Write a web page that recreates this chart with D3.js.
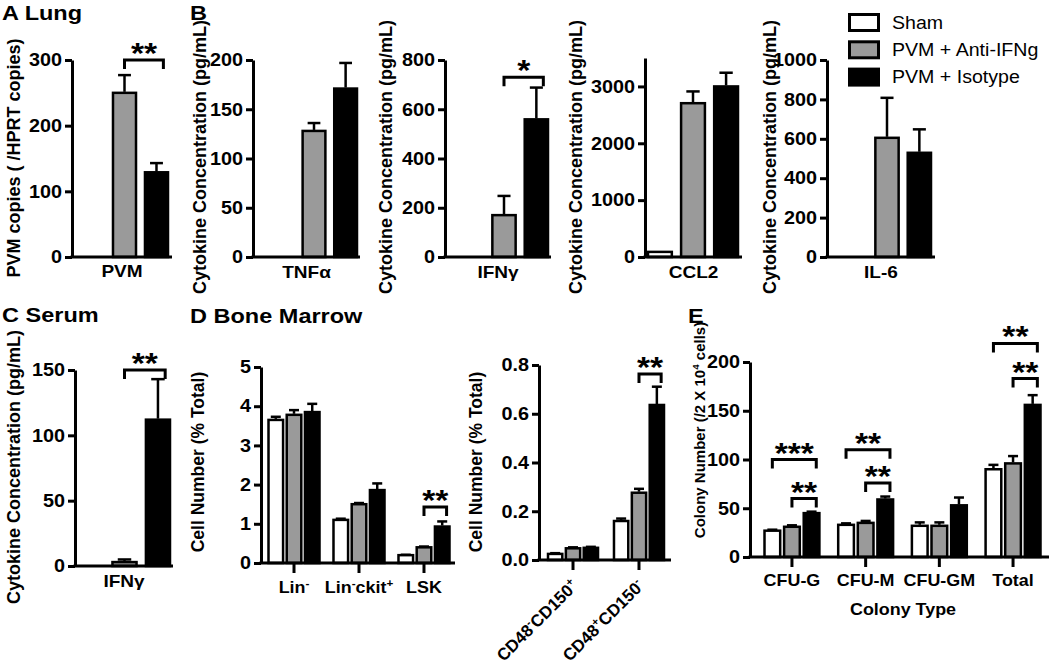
<!DOCTYPE html>
<html>
<head>
<meta charset="utf-8">
<script src="https://cdn.jsdelivr.net/npm/d3@7"></script>
<style>
  body { margin: 0; background: #fff; }
  svg { font-family: "Liberation Sans", Arial, sans-serif; }
</style>
</head>
<body>
<script>
// groups shown in every panel
const series = ["Sham", "PVM + Anti-IFNg", "PVM + Isotype"];
const fills = ["#ffffff", "#9a9a9a", "#000000"];

// A - lung viral load
const lungCats = ["PVM"];
const lungMean = [[null, 250, 129]];
const lungErr = [[null, 27, 14]];
const lungSig = [[0, 1, 2, 300, "**"]];

// B - lung cytokines
const cytoCats = ["TNFα", "IFNγ", "CCL2", "IL-6"];
const cytoMean = [[null, 128, 171], [null, 170, 559], [90, 2705, 3000], [null, 605, 529]];
const cytoErr = [[null, 8, 26], [null, 78, 129], [null, 207, 241], [null, 203, 119]];
const cytoTicks = [[0, 50, 100, 150, 200], [0, 200, 400, 600, 800], [0, 1000, 2000, 3000], [0, 200, 400, 600, 800, 1000]];
const cytoSig = [[], [[0, 1, 2, 730, "*"]], [], []];

// C - serum
const serumCats = ["IFNγ"];
const serumMean = [[null, 3, 112]];
const serumErr = [[null, 2, 31]];
const serumSig = [[0, 1, 2, 150, "**"]];

// D - bone marrow ("^x" = superscript)
const bmCats = ["Lin^-", "Lin^-ckit^+", "LSK"];
const bmMean = [[3.65, 3.78, 3.85], [1.10, 1.50, 1.86], [0.20, 0.40, 0.93]];
const bmErr = [[0.08, 0.12, 0.21], [0.03, 0.03, 0.17], [0.01, 0.02, 0.13]];
const bmSig = [[2, 1, 2, 1.43, "**"]];

const hscCats = ["CD48^-CD150^+", "CD48^+CD150^-"];
const hscMean = [[0.025, 0.048, 0.05], [0.16, 0.276, 0.636]];
const hscErr = [[0.003, 0.004, 0.004], [0.01, 0.016, 0.075]];
const hscSig = [[1, 1, 2, 0.763, "**"]];

// E - colonies
const cfuCats = ["CFU-G", "CFU-M", "CFU-GM", "Total"];
const cfuMean = [[27, 31, 45], [33, 35, 59], [32, 32, 53], [90, 96, 156]];
const cfuErr = [[1, 1.5, 1.5], [1.5, 2, 3], [3.5, 3.5, 8], [4.5, 7.5, 10]];
const cfuSig = [[0, 0, 2, 100, "***"], [0, 1, 2, 60, "**"], [1, 0, 2, 110, "**"], [1, 1, 2, 76, "**"], [3, 0, 2, 219, "**"], [3, 1, 2, 183, "**"]];

const svg = d3.select("body").append("svg").attr("width", 1050).attr("height", 666);
const SX = 1.12; // the figure's lettering is a bit wide

function rich(t, str, fs) {
  let up = false;
  str.split(/(\^.)/).filter(s => s.length).forEach(p => {
    const sup = p[0] === "^";
    const ts = t.append("tspan").text(sup ? p.slice(1) : p);
    if (sup) {
      ts.attr("font-size", fs * 0.65);
      if (!up) ts.attr("dy", -fs * 0.4);
      up = true;
    } else if (up) {
      ts.attr("dy", fs * 0.4);
      up = false;
    }
  });
  return t;
}

function label(g, x, y, str, fs, weight, anchor) {
  const t = g.append("text")
    .attr("transform", `translate(${x},${y}) scale(${SX},1)`)
    .attr("text-anchor", anchor || "middle")
    .attr("font-size", fs).attr("font-weight", weight || "bold");
  return rich(t, str, fs);
}

function panel(o) {
  const g = svg.append("g");
  const y = d3.scaleLinear().domain([0, o.max]).range(o.ay);
  const xg = d3.scaleBand().domain(d3.range(o.cats.length)).range(o.bx).paddingInner(o.gp || 0);
  const xs = d3.scaleBand().domain(d3.range(series.length)).range([0, xg.bandwidth()]).paddingInner(o.sp);
  const bw = xs.bandwidth();
  const cx = (i, j) => xg(i) + xs(j) + bw / 2;

  const cells = [];
  o.mean.forEach((row, i) => row.forEach((v, j) => {
    if (v != null) cells.push({ i, j, v, e: o.err[i][j] });
  }));

  g.selectAll("rect").data(cells).join("rect")
    .attr("x", d => xg(d.i) + xs(d.j))
    .attr("y", d => y(d.v))
    .attr("width", bw)
    .attr("height", d => y(0) - y(d.v))
    .attr("fill", d => fills[d.j])
    .attr("stroke", "#000").attr("stroke-width", 2.5);

  const cap = Math.max(bw * 0.28, 5);
  const eb = g.selectAll("g.err").data(cells.filter(d => d.e)).join("g").attr("class", "err")
    .attr("stroke", "#000").attr("stroke-width", 2.5);
  eb.append("line")
    .attr("x1", d => cx(d.i, d.j)).attr("x2", d => cx(d.i, d.j))
    .attr("y1", d => y(d.v) - 1).attr("y2", d => y(d.v + d.e));
  eb.append("line")
    .attr("x1", d => cx(d.i, d.j) - cap).attr("x2", d => cx(d.i, d.j) + cap)
    .attr("y1", d => y(d.v + d.e)).attr("y2", d => y(d.v + d.e));

  // axes
  g.append("line")
    .attr("x1", o.ax[0] - 1.5).attr("x2", o.ax[1])
    .attr("y1", y(0)).attr("y2", y(0))
    .attr("stroke", "#000").attr("stroke-width", 3);
  if (o.xticks) {
    g.append("g").attr("transform", `translate(0,${y(0)})`)
      .call(d3.axisBottom(xg).tickSize(10).tickFormat(""))
      .call(s => s.select(".domain").remove());
  }
  const ya = g.append("g").attr("transform", `translate(${o.ax[0]},0)`)
    .call(d3.axisLeft(y).tickValues(o.ticks).tickFormat(o.fmt || d3.format("d"))
      .tickSize(7).tickPadding(2).tickSizeOuter(0));
  g.selectAll(".domain, .tick line").attr("stroke", "#000").attr("stroke-width", 3);
  ya.attr("font-family", null);
  ya.selectAll("text").attr("font-size", 18).attr("font-weight", "bold").attr("fill", "#000")
    .attr("transform", "scale(1.1,1)");

  // category labels
  o.cats.forEach((c, i) => {
    const mx = o.cats.length === 1 ? (o.ax[0] + o.ax[1]) / 2 : xg(i) + xg.bandwidth() / 2;
    if (o.rot) {
      const t = g.append("text")
        .attr("transform", `translate(${mx + 6},${o.ly}) rotate(-45)`)
        .attr("text-anchor", "end").attr("font-size", 17).attr("font-weight", "bold");
      rich(t, c, 17);
    } else {
      label(g, mx, o.ly, c, o.cfs || 17);
    }
  });

  // y title
  const fs = o.ylfs || 18;
  const yt = g.append("text")
    .attr("transform", `translate(${o.yl[0]},${o.yl[1]}) rotate(-90)`)
    .attr("text-anchor", "middle")
    .attr("font-size", fs).attr("font-weight", "bold");
  rich(yt, o.ytitle, fs);

  // significance brackets
  o.sig.forEach(([i, a, b, v, lab]) => {
    const lx = cx(i, a), rx = cx(i, b) + bw * 0.3, yy = y(v);
    g.append("path")
      .attr("d", `M${lx},${yy + 9}V${yy}H${rx}V${yy + 9}`)
      .attr("fill", "none").attr("stroke", "#000").attr("stroke-width", 3);
    label(g, (lx + rx) / 2, yy + 3, lab, 30);
  });
  return g;
}

const cytoLabel = "Cytokine Concentration (pg/mL)";

panel({ cats: lungCats, mean: lungMean, err: lungErr, sig: lungSig, max: 300, ticks: [0, 100, 200, 300],
  ax: [72, 172], ay: [257, 60], bx: [81, 168], sp: 0.28, ly: 277, yl: [20, 158],
  ytitle: "PVM copies ( /HPRT copies)" });

const cytoAx = [[253, 360], [445, 551], [645, 742], [827, 935]];
const cytoBx = [[271, 357], [460, 548], [648, 738], [843, 931]];
const cytoMax = [200, 800, 3500, 1000];
const cytoTop = [60, 60, 58, 60];
const cytoYl = [206, 392, 582, 776];
cytoCats.forEach((c, k) => {
  panel({ cats: [c], mean: [cytoMean[k]], err: [cytoErr[k]], sig: cytoSig[k], max: cytoMax[k], ticks: cytoTicks[k],
    ax: cytoAx[k], ay: [257, cytoTop[k]], bx: cytoBx[k], sp: 0.28, ly: 278, yl: [cytoYl[k], 157],
    ytitle: cytoLabel });
});

panel({ cats: serumCats, mean: serumMean, err: serumErr, sig: serumSig, max: 150, ticks: [0, 50, 100, 150],
  ax: [75, 173], ay: [566, 370], bx: [79, 170], sp: 0.28, ly: 587, yl: [20, 467],
  ytitle: cytoLabel });

panel({ cats: bmCats, mean: bmMean, err: bmErr, sig: bmSig, max: 5, ticks: [0, 1, 2, 3, 4, 5],
  ax: [261, 455], ay: [563, 367], bx: [268.5, 449.5], gp: 0.215, sp: 0.2, xticks: true, ly: 593, cfs: 16,
  yl: [204, 462], ylfs: 17.5, ytitle: "Cell Number (% Total)" });

panel({ cats: hscCats, mean: hscMean, err: hscErr, sig: hscSig, max: 0.8, ticks: [0, 0.2, 0.4, 0.6, 0.8], fmt: d3.format(".1f"),
  ax: [539, 671], ay: [560, 365], bx: [548, 664], gp: 0.242, sp: 0.2, xticks: true, rot: true, ly: 587,
  yl: [482, 462], ylfs: 17.5, ytitle: "Cell Number (% Total)" });

const gE = panel({ cats: cfuCats, mean: cfuMean, err: cfuErr, sig: cfuSig, max: 200, ticks: [0, 50, 100, 150, 200],
  ax: [750, 1049], ay: [557, 362], bx: [764.5, 1040.5], gp: 0.255, sp: 0.2, xticks: true, ly: 586, cfs: 16,
  yl: [705, 430], ylfs: 15, ytitle: "Colony Number (/2 X 10^4 cells)" });
label(gE, 903, 615, "Colony Type", 16);

// panel letters
label(svg, 2, 20, "A Lung", 21, "bold", "start");
label(svg, 190, 20, "B", 21, "bold", "start");
label(svg, 2, 322, "C Serum", 21, "bold", "start");
label(svg, 190, 323, "D Bone Marrow", 21, "bold", "start");
label(svg, 688, 323, "E", 21, "bold", "start");

// legend
const lg = svg.append("g");
series.forEach((s, j) => {
  lg.append("rect")
    .attr("x", 849.5).attr("y", 14.5 + 27.3 * j).attr("width", 29).attr("height", 16)
    .attr("fill", fills[j]).attr("stroke", "#000").attr("stroke-width", 3);
  label(lg, 892, 29 + 27 * j, s, 17.5, "normal", "start");
});
</script>
</body>
</html>
